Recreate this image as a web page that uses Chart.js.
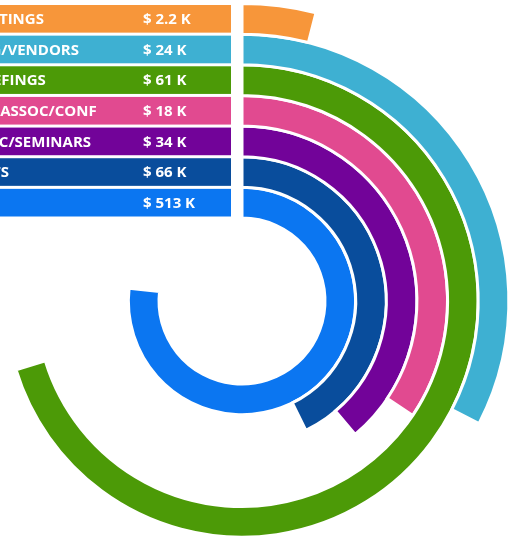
<!DOCTYPE html>
<html>
<head>
<meta charset="utf-8">
<script src="https://cdn.jsdelivr.net/npm/chart.js@4.4.1/dist/chart.umd.min.js"></script>
<style>
  html, body { margin: 0; padding: 0; overflow: hidden; background: #fff; width: 517px; height: 537px; }
  #wrap { position: absolute; left: -57px; top: 2px; width: 598px; height: 598px; }
</style>
</head>
<body>
<div id="wrap"><canvas id="c" width="598" height="598"></canvas></div>
<script>
// Expense categories, outermost ring first
const categories = ['MEETINGS', 'MFG/VENDORS', 'BRIEFINGS', 'IND ASSOC/CONF', 'EDUC/SEMINARS', 'GIFTS', 'T&E'];
// Spend per category, in thousands of dollars
const spendK = [2.2, 24, 61, 18, 34, 66, 513];
// Share of budget used, in percent of a full ring
const sharePct = [4.0, 32.6, 70.3, 34.4, 38.8, 42.7, 76.8];
const colors = ['#F7963A', '#3EB0D2', '#4C9A07', '#E14A90', '#720399', '#094D9C', '#0B76F1'];

const GAP = 3;

const datasets = categories.map((name, i) => ({
  label: name,
  data: [sharePct[i], 100 - sharePct[i]],
  backgroundColor: [colors[i], 'rgba(0,0,0,0)'],
  borderColor: ['#ffffff', 'rgba(0,0,0,0)'],
  borderWidth: [GAP, 0],
  borderJoinStyle: 'miter'
}));

// Horizontal label bands that continue each ring to the left of its start
const labelBands = {
  id: 'labelBands',
  afterDatasetsDraw(chart) {
    const ctx = chart.ctx;
    ctx.save();
    chart.data.datasets.forEach((ds, i) => {
      const arc = chart.getDatasetMeta(i).data[0];
      const top = arc.y - arc.outerRadius + GAP / 2;
      const bottom = arc.y - arc.innerRadius - GAP / 2;
      const mid = (top + bottom) / 2;
      ctx.fillStyle = colors[i];
      ctx.fillRect(0, top, arc.x - 11, bottom - top);
      ctx.fillStyle = '#ffffff';
      ctx.font = 'bold 15px "Open Sans"';
      ctx.textBaseline = 'middle';
      ctx.textAlign = 'left';
      ctx.fillText(categories[i], 25, mid + 1);
      ctx.fillText('$ ' + spendK[i] + ' K', arc.x - 99, mid + 1);
    });
    ctx.restore();
  }
};

new Chart(document.getElementById('c'), {
  type: 'doughnut',
  data: { labels: ['used', 'rest'], datasets },
  options: {
    responsive: false,
    animation: false,
    events: [],
    cutout: 83,
    rotation: 0,
    layout: { padding: 0 },
    plugins: { legend: { display: false }, tooltip: { enabled: false } }
  },
  plugins: [labelBands]
});
</script>
</body>
</html>
